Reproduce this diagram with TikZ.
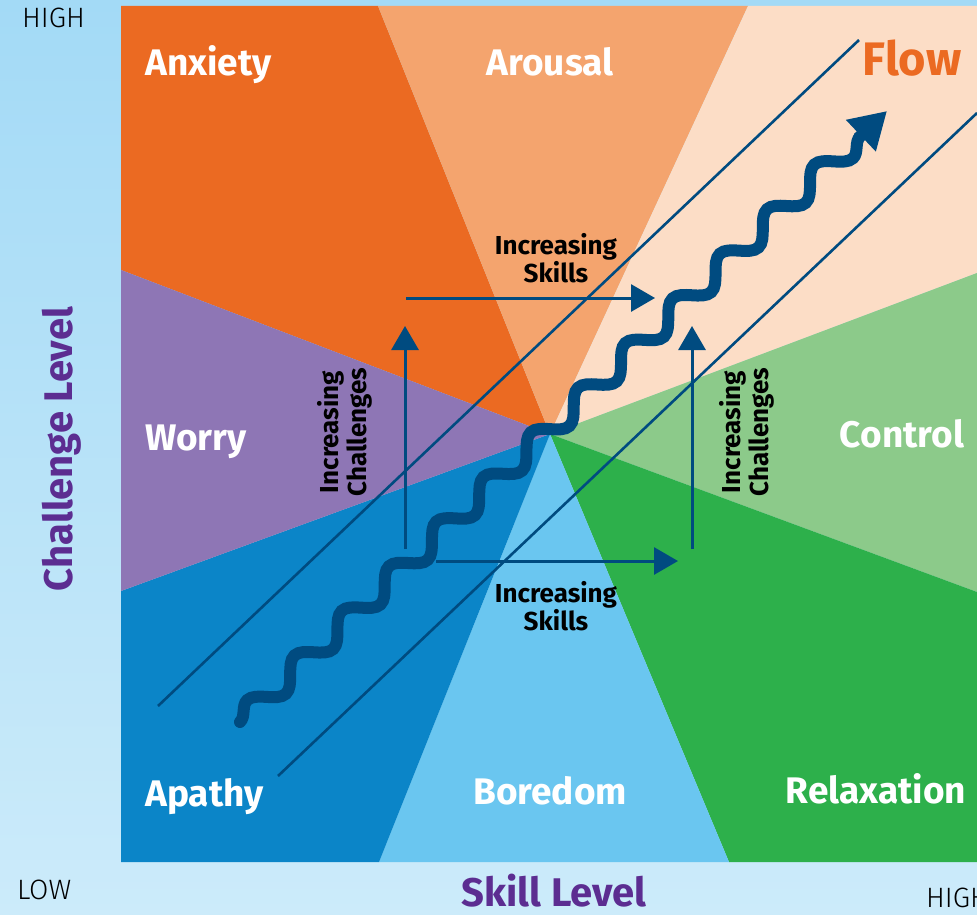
\documentclass[tikz,border=0pt]{standalone}
\usepackage{fontspec}
\setmainfont{Fira Sans}
\newfontfamily\thinfont{Fira Sans Light}
\usepackage{tikz}
\usetikzlibrary{positioning, calc, arrows.meta, decorations.pathmorphing}

\definecolor{bgtop}{HTML}{A3DAF6}
\definecolor{bgbot}{HTML}{CCEBFA}
\definecolor{anxiety}{HTML}{EB6A22}
\definecolor{arousal}{HTML}{F4A46E}
\definecolor{flow}{HTML}{FCDDC6}
\definecolor{control}{HTML}{8CCA8A}
\definecolor{relax}{HTML}{2DB04B}
\definecolor{boredom}{HTML}{6AC6F0}
\definecolor{apathy}{HTML}{0B85C8}
\definecolor{worry}{HTML}{8E76B5}
\definecolor{navy}{HTML}{004B80}
\definecolor{axis}{HTML}{5C2D91}

\tikzset{
	zone/.style={inner sep=0pt, text=white, font=\bfseries\fontsize{37}{37}\selectfont},
	hint/.style={inner sep=0pt, align=center, text=black, font=\bfseries\fontsize{26}{28}\selectfont},
	level/.style={inner sep=0pt, text=axis, font=\bfseries\fontsize{40}{40}\selectfont},
	endlabel/.style={inner sep=0pt, text=black, font=\thinfont\fontsize{28}{28}\selectfont},
	guide/.style={navy, line width=2.6pt},
	push/.style={navy, line width=3pt, -{Triangle[length=24pt,width=27pt]}},
	wave/.style={navy, line width=12pt, line cap=round, decorate,
		decoration={snake, segment length=65pt, amplitude=11pt, post length=12pt},
		-{Triangle[length=36pt,width=41pt]}}
}

\begin{document}
\begin{tikzpicture}[x=1pt, y=-1pt]
			\useasboundingbox (0, 0) rectangle (977, 915);
			\fill[top color=bgtop, bottom color=bgbot] (0, 0) rectangle (977, 915);
			
			\coordinate (c) at (550, 434);
			\fill[anxiety] (c) -- (121, 270) -- (121, 6) -- (378, 6) -- cycle;
			\fill[arousal] (c) -- (378, 6) -- (748, 6) -- cycle;
			\fill[flow] (c) -- (748, 6) -- (977, 6) -- (977, 273) -- cycle;
			\fill[control] (c) -- (977, 273) -- (977, 592) -- cycle;
			\fill[relax] (c) -- (977, 592) -- (977, 862) -- (729, 862) -- cycle;
			\fill[boredom] (c) -- (729, 862) -- (379, 862) -- cycle;
			\fill[apathy] (c) -- (379, 862) -- (121, 862) -- (121, 591) -- cycle;
			\fill[worry] (c) -- (121, 591) -- (121, 270) -- cycle;
			
			\coordinate (g1a) at (158, 706);
			\coordinate (g1b) at (859, 40);
			\coordinate (g2a) at (278, 776);
			\coordinate (g2b) at (977, 113);
			\draw[guide] (g1a) -- (g1b);
			\draw[guide] (g2a) -- (g2b);
			
			\coordinate (ua) at (405, 549);
			\coordinate (ub) at (405, 326);
			\coordinate (ta) at (406, 298);
			\coordinate (tb) at (655, 298);
			\coordinate (ba) at (436, 561);
			\coordinate (bb) at (678, 561);
			\coordinate (ra) at (692, 549);
			\coordinate (rb) at (692, 326);
			\draw[push] (ua) -- (ub);
			\draw[push] (ta) -- (tb);
			\draw[push] (ba) -- (bb);
			\draw[push] (ra) -- (rb);
			
			\coordinate (ws) at (240, 722);
			\coordinate (we) at (887, 111);
			\draw[wave] (ws) -- (we);
			
			\node[zone, anchor=base west] (anxiety) at (145, 76) {Anxiety};
			\node[zone, anchor=base] (arousal) at (550, 76) {Arousal};
			\node[zone, anchor=base, text=anxiety, font=\bfseries\fontsize{47}{47}\selectfont] (flowlabel) at (912, 76) {Flow};
			\node[zone, anchor=base west] (worry) at (145, 450) {Worry};
			\node[zone, anchor=base] (control) at (902, 447) {Control};
			\node[zone, anchor=base west] (apathy) at (145, 806) {Apathy};
			\node[zone, anchor=base] (boredom) at (550, 804) {Boredom};
			\node[zone, anchor=base] (relaxation) at (876, 803) {Relaxation};
			
			\node[hint] (upskills) at (556, 258) {Increasing\\Skills};
			\node[hint] (lowskills) at (556, 606) {Increasing\\Skills};
			\node[hint, rotate=90] (leftchal) at (345, 432) {Increasing\\Challenges};
			\node[hint, rotate=90] (rightchal) at (747, 432) {Increasing\\Challenges};
			
			\node[endlabel, anchor=base west] (hightop) at (22, 28) {HIGH};
			\node[endlabel, anchor=base west] (low) at (17, 899) {LOW};
			\node[endlabel, anchor=base west] (highright) at (926, 907) {HIGH};
			\node[level, anchor=base, rotate=90] (challenge) at (72, 449) {Challenge Level};
			\node[level, anchor=base] (skill) at (554, 906) {Skill Level};
		\end{tikzpicture}
\end{document}
